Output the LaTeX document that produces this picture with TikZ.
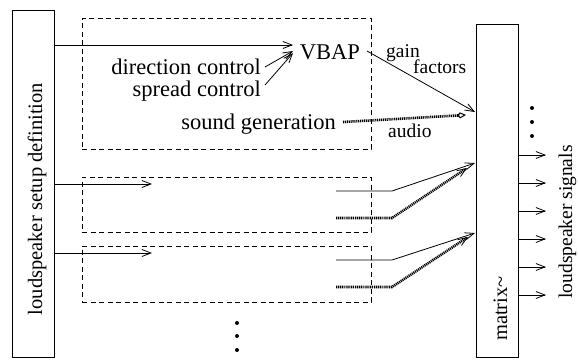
\documentclass[tikz,border=0pt]{standalone}
\usepackage{fontspec}
\setmainfont{Liberation Serif}
\usetikzlibrary{arrows.meta}
\begin{document}
\begin{tikzpicture}[x=1pt,y=-1pt,
 frame/.style={draw, line width=0.8pt, inner sep=0pt},
 dframe/.style={draw, line width=0.8pt, dash pattern=on 5pt off 3.5pt, inner sep=0pt},
 big/.style={font=\fontsize{22.5}{24}\selectfont, inner sep=0pt},
 mid/.style={font=\fontsize{20.5}{22}\selectfont, inner sep=0pt},
 small/.style={font=\fontsize{19.5}{22}\selectfont, inner sep=0pt},
 arr/.style={line width=0.8pt, -{Straight Barb[length=9pt,width=7pt,line width=0.8pt]}},
 dotline/.style={line width=2.6pt, dash pattern=on 1.1pt off 0.8pt},
 dotarr/.style={dotline, -{Straight Barb[length=9pt,width=7pt,line width=0.8pt]}},
 audarr/.style={dotline, -{Kite[open,length=9pt,width=6pt,inset=3pt,line width=1pt]}},
 dot/.style={circle, fill, inner sep=0pt, minimum size=4pt}]
\useasboundingbox (0,0) rectangle (578,360);
% boxes
\node[frame, minimum width=42pt, minimum height=347pt] (lsd) at (33,183.5) {};
\node[frame, minimum width=42pt, minimum height=333pt] (mat) at (497,190.5) {};
\node[dframe, minimum width=289pt, minimum height=131pt] (box1) at (226.5,83.5) {};
\node[dframe, minimum width=289pt, minimum height=55pt] (box2) at (226.5,204.5) {};
\node[dframe, minimum width=289pt, minimum height=56pt] (box3) at (226.5,274) {};
% texts
\node[mid, rotate=90, anchor=base] (lsdt) at (42,199) {loudspeaker setup definition};
\node[mid, rotate=90, anchor=base] (matt) at (507,308.5) {matrix\textasciitilde};
\node[small, rotate=90, anchor=base] (lss) at (572,222) {loudspeaker signals};
\node[big, anchor=base] (vbap) at (330,59) {VBAP};
\node[big, anchor=base east] (dir) at (261,74) {direction control};
\node[big, anchor=base east] (spr) at (261,96) {spread control};
\node[big, anchor=base east] (snd) at (336,129) {sound generation};
\node[small, anchor=base west] (gain) at (386,57) {gain};
\node[small, anchor=base west] (fac) at (413,73) {factors};
\node[small, anchor=base west] (aud) at (388,137) {audio};
% dots
\node[dot] (m1) at (532,108) {};
\node[dot] (m2) at (532,122) {};
\node[dot] (m3) at (532,136) {};
\node[dot] (b1) at (237,323) {};
\node[dot] (b2) at (237,336) {};
\node[dot] (b3) at (237,350) {};
% coordinates
\coordinate (a1) at (293,45);
\coordinate (d0) at (265,67);
\coordinate (d1) at (293,51);
\coordinate (s0) at (265,85);
\coordinate (s1) at (293,53);
\coordinate (g0) at (367,51);
\coordinate (g1) at (475,112);
\coordinate (au0) at (343,122);
\coordinate (au1) at (466,115);
\coordinate (i2) at (152,184);
\coordinate (i3) at (152,253);
\coordinate (p2a) at (336,191);
\coordinate (p2b) at (392,191);
\coordinate (p2c) at (475,163);
\coordinate (q2a) at (336,218);
\coordinate (q2b) at (392,218);
\coordinate (q2c) at (467,168);
\coordinate (p3a) at (336,260);
\coordinate (p3b) at (392,260);
\coordinate (p3c) at (475,233);
\coordinate (q3a) at (336,287);
\coordinate (q3b) at (392,287);
\coordinate (q3c) at (468,237);
% connectors
\draw[arr] (lsd.east |- a1) -- (a1);
\draw[arr] (d0) -- (d1);
\draw[arr] (s0) -- (s1);
\draw[arr] (g0) -- (g1);
\draw[audarr] (au0) -- (au1);
\draw[arr] (lsd.east |- i2) -- (i2);
\draw[arr] (lsd.east |- i3) -- (i3);
\draw[arr] (p2a) -- (p2b) -- (p2c);
\draw[dotarr] (q2a) -- (q2b) -- (q2c);
\draw[arr] (p3a) -- (p3b) -- (p3c);
\draw[dotarr] (q3a) -- (q3b) -- (q3c);
\foreach \y in {155,183,211,239,267,295} {
  \coordinate (o\y) at (546,\y);
  \draw[arr] (mat.east |- o\y) -- (o\y);
}
\end{tikzpicture}
\end{document}
